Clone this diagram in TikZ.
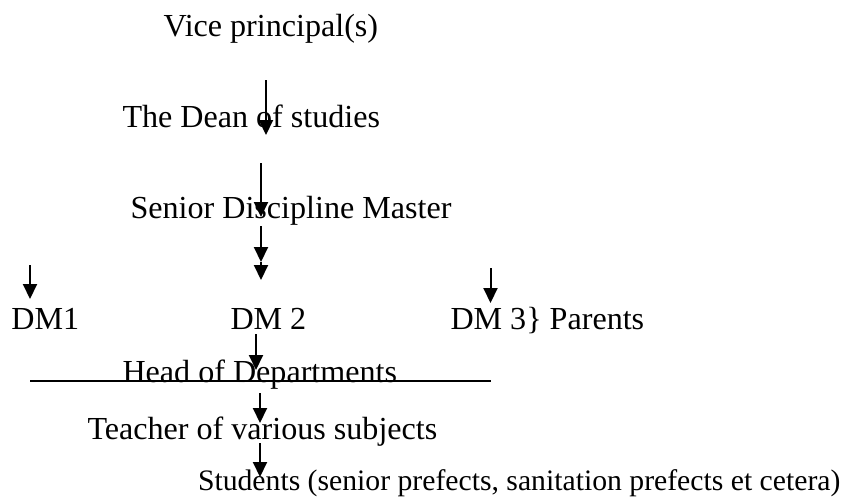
\documentclass[tikz,border=0pt]{standalone}
\usepackage{fontspec}
\setmainfont{Liberation Serif}
\usetikzlibrary{arrows.meta}
\tikzset{
  lbl/.style={anchor=base west, inner sep=0pt, outer sep=0pt, font=\fontsize{32.1pt}{38pt}\selectfont},
  smalllbl/.style={lbl, font=\fontsize{29.7pt}{36pt}\selectfont},
  arr/.style={line width=2pt, -{Triangle[width=14pt,length=15pt]}},
  rule/.style={line width=1.6pt}
}
\begin{document}
\begin{tikzpicture}[x=1pt,y=-1pt]
\useasboundingbox (0,0) rectangle (851,499);
% texts
\node[lbl] (vp) at (163.5,36) {Vice principal(s)};
\node[lbl] (dean) at (122.5,127) {The Dean of studies};
\node[lbl] (sdm) at (130.5,218) {Senior Discipline Master};
\node[lbl] (dm1) at (11.5,329) {DM1};
\node[lbl] (dm2) at (230.5,329) {DM 2};
\node[lbl] (dm3) at (450.5,329) {DM 3\} Parents};
\node[lbl] (hod) at (122.5,382) {Head of Departments};
\node[lbl] (tea) at (87.5,439) {Teacher of various subjects};
\node[smalllbl] (stu) at (198,490) {Students (senior prefects, sanitation prefects et cetera)};
% arrow end points
\coordinate (a1s) at (266,80);   \coordinate (a1e) at (266,135);
\coordinate (a2s) at (261,163);  \coordinate (a2e) at (261,217);
\coordinate (a3s) at (261,226);  \coordinate (a3m) at (261,262);
\coordinate (a3e) at (261,280);
\coordinate (a4s) at (30,265);   \coordinate (a4e) at (30,299);
\coordinate (a5s) at (490.5,268);\coordinate (a5e) at (490.5,303);
\coordinate (a6s) at (256,334);  \coordinate (a6e) at (256,370);
\coordinate (a7s) at (260,393);  \coordinate (a7e) at (260,423);
\coordinate (a8s) at (260,443);  \coordinate (a8e) at (260,477);
\coordinate (ls) at (30,381);    \coordinate (le) at (491,381);
% connectors
\draw[arr] (a1s) -- (a1e);
\draw[arr] (a2s) -- (a2e);
\draw[arr] (a3s) -- (a3m);
\draw[arr] (a3m) -- (a3e);
\draw[arr] (a4s) -- (a4e);
\draw[arr] (a5s) -- (a5e);
\draw[arr] (a6s) -- (a6e);
\draw[arr] (a7s) -- (a7e);
\draw[arr] (a8s) -- (a8e);
\draw[rule] (ls) -- (le);
\end{tikzpicture}
\end{document}
